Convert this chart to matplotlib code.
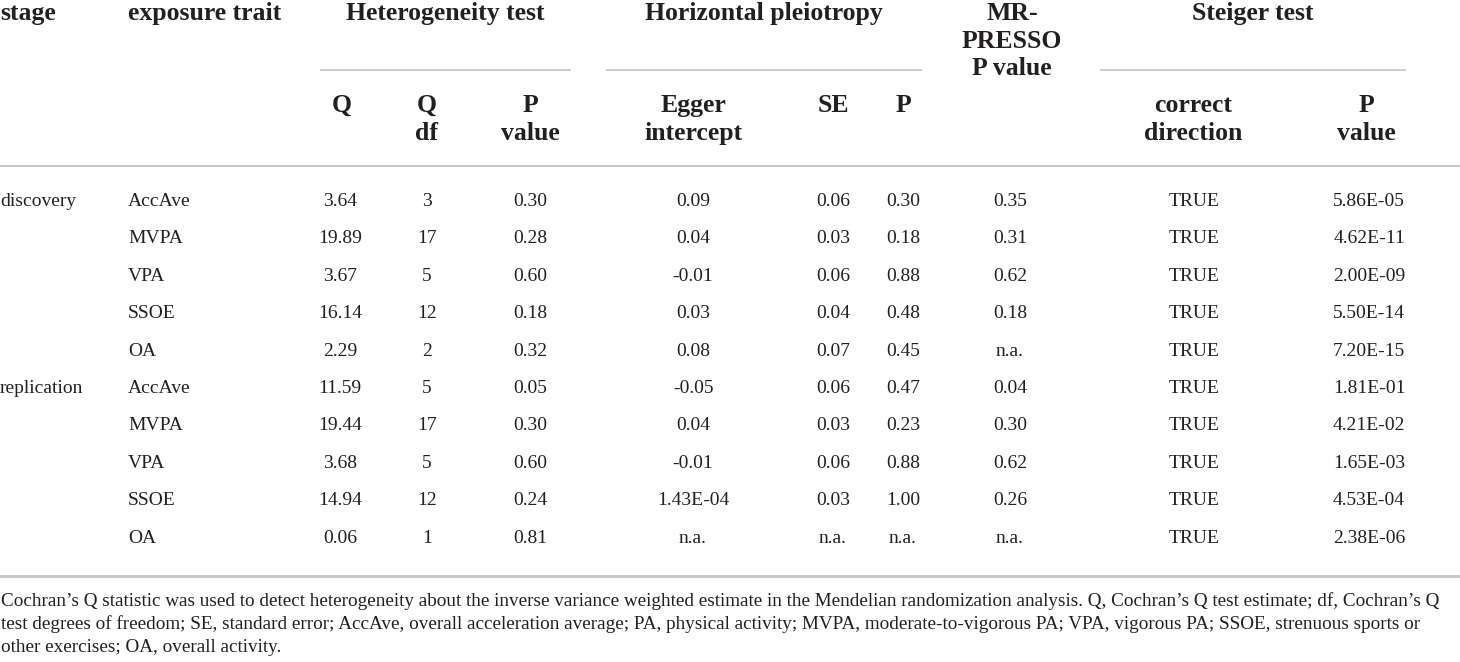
import matplotlib
matplotlib.use("Agg")
import matplotlib.pyplot as plt

plt.rcParams["font.family"] = ["Liberation Serif", "DejaVu Serif"]

# --- 表格数据 ---
stages = ["discovery", "", "", "", "", "replication", "", "", "", ""]
traits = ["AccAve", "MVPA", "VPA", "SSOE", "OA", "AccAve", "MVPA", "VPA", "SSOE", "OA"]
q_stat = ["3.64", "19.89", "3.67", "16.14", "2.29", "11.59", "19.44", "3.68", "14.94", "0.06"]
q_df = ["3", "17", "5", "12", "2", "5", "17", "5", "12", "1"]
q_p = ["0.30", "0.28", "0.60", "0.18", "0.32", "0.05", "0.30", "0.60", "0.24", "0.81"]
egger_int = ["0.09", "0.04", "-0.01", "0.03", "0.08", "-0.05", "0.04", "-0.01", "1.43E-04", "n.a."]
egger_se = ["0.06", "0.03", "0.06", "0.04", "0.07", "0.06", "0.03", "0.06", "0.03", "n.a."]
egger_p = ["0.30", "0.18", "0.88", "0.48", "0.45", "0.47", "0.23", "0.88", "1.00", "n.a."]
presso_p = ["0.35", "0.31", "0.62", "0.18", "n.a.", "0.04", "0.30", "0.62", "0.26", "n.a."]
direction = ["TRUE"] * 10
steiger_p = ["5.86E-05", "4.62E-11", "2.00E-09", "5.50E-14", "7.20E-15",
             "1.81E-01", "4.21E-02", "1.65E-03", "4.53E-04", "2.38E-06"]

groups = ["Heterogeneity test", "Horizontal pleiotropy", "Steiger test"]
presso_head = ["MR-", "PRESSO", "P value"]
subheads = [["Q"], ["Q", "df"], ["P", "value"], ["Egger", "intercept"], ["SE"], ["P"],
            ["correct", "direction"], ["P", "value"]]
footnote = [
    "Cochran\u2019s Q statistic was used to detect heterogeneity about the inverse variance weighted estimate in the Mendelian randomization analysis. Q, Cochran\u2019s Q test estimate; df, Cochran\u2019s Q",
    "test degrees of freedom; SE, standard error; AccAve, overall acceleration average; PA, physical activity; MVPA, moderate-to-vigorous PA; VPA, vigorous PA; SSOE, strenuous sports or",
    "other exercises; OA, overall activity.",
]

W, H = 1460, 662
TXT = "#231f20"
RULE = "#c8c8c8"
HS = 18.5   # 表头字号
DS = 14     # 数据字号
FS = 13.8   # 脚注字号


def put(x, y, s, size, bold=False, ha="center"):
    ax.text(x, y, s, fontsize=size, fontweight="bold" if bold else "normal",
            color=TXT, ha=ha, va="baseline")


fig = plt.figure(figsize=(W / 100, H / 100), dpi=100)
ax = fig.add_axes([0, 0, 1, 1])
ax.set_xlim(0, W); ax.set_ylim(H, 0); ax.axis("off")

# 表头第一行
put(0, 20, "stage", HS, True, "left")
put(128, 20, "exposure trait", HS, True, "left")
grp_x = [(320, 571), (606, 922), (1100, 1406)]
for g, (x0, x1) in zip(groups, grp_x):
    put((x0 + x1) / 2, 20, g, HS, True)
    ax.plot([x0, x1], [70, 70], color=RULE, lw=1.3, solid_capstyle="butt")
for k, s in enumerate(presso_head):
    put(1012, 20 + 27.5 * k, s, HS, True)

# 表头第二行
sub_x = [342, 427, 530, 693, 833, 903, 1193, 1366]
for lines, x in zip(subheads, sub_x):
    for k, s in enumerate(lines):
        put(x, 112 + 28 * k, s, HS, True)

ax.plot([0, W], [166, 166], color=RULE, lw=1.5)

# 数据行
cols = [q_stat, q_df, q_p, egger_int, egger_se, egger_p, presso_p, direction, steiger_p]
col_x = [340, 427, 530, 693, 833, 903, 1010, 1194, 1369]
for i in range(len(traits)):
    y = 206 + 37.4 * i
    put(0, y, stages[i], DS, ha="left")
    put(128, y, traits[i], DS, ha="left")
    for c, x in zip(cols, col_x):
        put(x, y, c[i], DS)

ax.plot([0, W], [576, 576], color=RULE, lw=2.2)

for k, line in enumerate(footnote):
    put(1, 606 + 23 * k, line, FS, ha="left")

fig.savefig("out.png", dpi=100)
